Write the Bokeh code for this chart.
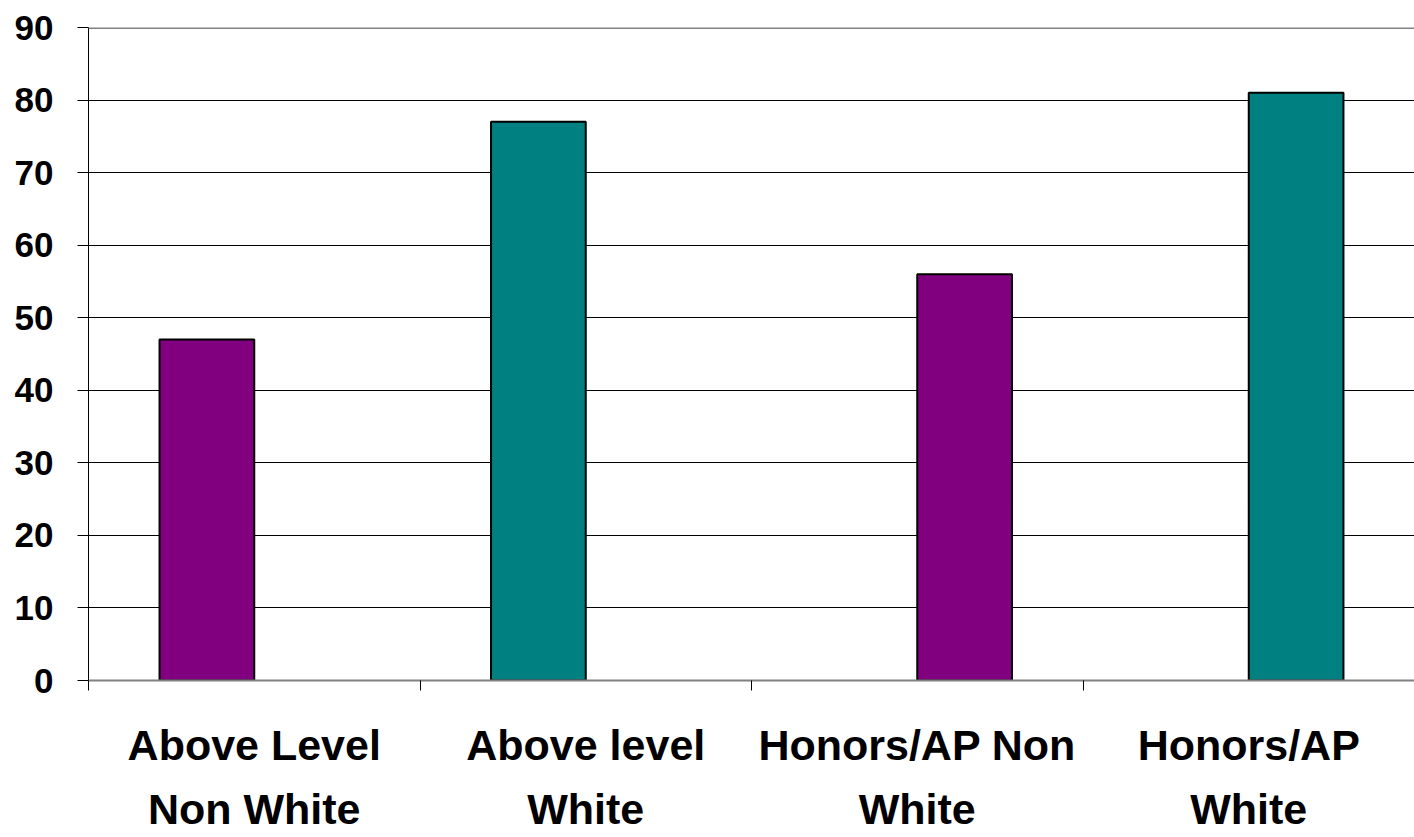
from bokeh.plotting import figure
from bokeh.models import ColumnDataSource, Range1d, FixedTicker, Span
from bokeh.transform import dodge
from bokeh.embed import file_html
from bokeh.resources import INLINE

categories = ["Above Level\nNon White", "Above level\nWhite", "Honors/AP Non\nWhite", "Honors/AP\nWhite"]
values = [47, 77, 56, 81]
series = ["Series 1", "Series 1", "Series 2", "Series 2"]
colors = ["#800080", "#008080", "#800080", "#008080"]
y_ticks = [0, 10, 20, 30, 40, 50, 60, 70, 80, 90]

FONT = "Liberation Sans Narrow, Arial Narrow, Liberation Sans, sans-serif"
bar_w = 1 / 3.5  # two series, gap width 150%

centers = [i + 0.5 for i in range(len(categories))]
src1 = {k: [] for k in ("x", "top", "color")}
src2 = {k: [] for k in ("x", "top", "color")}
for c, v, s, col in zip(centers, values, series, colors):
    d = src1 if s == "Series 1" else src2
    d["x"].append(c); d["top"].append(v); d["color"].append(col)

p = figure(width=1414, height=837, output_backend="svg", toolbar_location=None,
           x_range=Range1d(0, len(categories)), y_range=Range1d(0, 90),
           min_border_left=88, min_border_right=0, min_border_top=27, min_border_bottom=157)
p.outline_line_color = None
p.background_fill_color = "white"
p.border_fill_color = "white"

p.vbar(x=dodge("x", -bar_w / 2, range=p.x_range), top="top", width=bar_w, bottom=0,
       fill_color="color", line_color="black", line_width=2, source=ColumnDataSource(src1))
p.vbar(x=dodge("x", bar_w / 2, range=p.x_range), top="top", width=bar_w, bottom=0,
       fill_color="color", line_color="black", line_width=2, source=ColumnDataSource(src2))

# grid
p.xgrid.grid_line_color = None
p.ygrid.ticker = FixedTicker(ticks=y_ticks)
p.ygrid.grid_line_color = "black"
p.ygrid.grid_line_width = 1
p.ygrid.level = "underlay"
p.add_layout(Span(location=90, dimension="width", line_color="#808080", line_width=3))

# y axis
p.yaxis.ticker = FixedTicker(ticks=y_ticks)
p.yaxis.axis_line_color = "black"
p.yaxis.axis_line_width = 1
p.yaxis.major_tick_out = 11
p.yaxis.major_tick_in = 0
p.yaxis.major_tick_line_color = "black"
p.yaxis.minor_tick_line_color = None
p.yaxis.major_label_standoff = 24
p.yaxis.major_label_text_font = FONT
p.yaxis.major_label_text_font_style = "bold"
p.yaxis.major_label_text_font_size = "35px"
p.yaxis.major_label_text_color = "black"

# x axis
p.xaxis.ticker = FixedTicker(ticks=centers, minor_ticks=list(range(len(categories) + 1)))
p.xaxis.major_label_overrides = {c: lab for c, lab in zip(centers, categories)}
p.xaxis.axis_line_color = "#808080"
p.xaxis.axis_line_width = 2
p.xaxis.major_tick_line_color = None
p.xaxis.major_tick_out = 0
p.xaxis.major_tick_in = 0
p.xaxis.minor_tick_out = 10
p.xaxis.minor_tick_in = 0
p.xaxis.minor_tick_line_color = "black"
p.xaxis.major_label_standoff = 30
p.xaxis.major_label_text_font = FONT
p.xaxis.major_label_text_font_style = "bold"
p.xaxis.major_label_text_font_size = "43px"
p.xaxis.major_label_text_color = "black"
p.xaxis.major_label_text_line_height = 1.35

open("out.html", "w").write(file_html(p, INLINE))
